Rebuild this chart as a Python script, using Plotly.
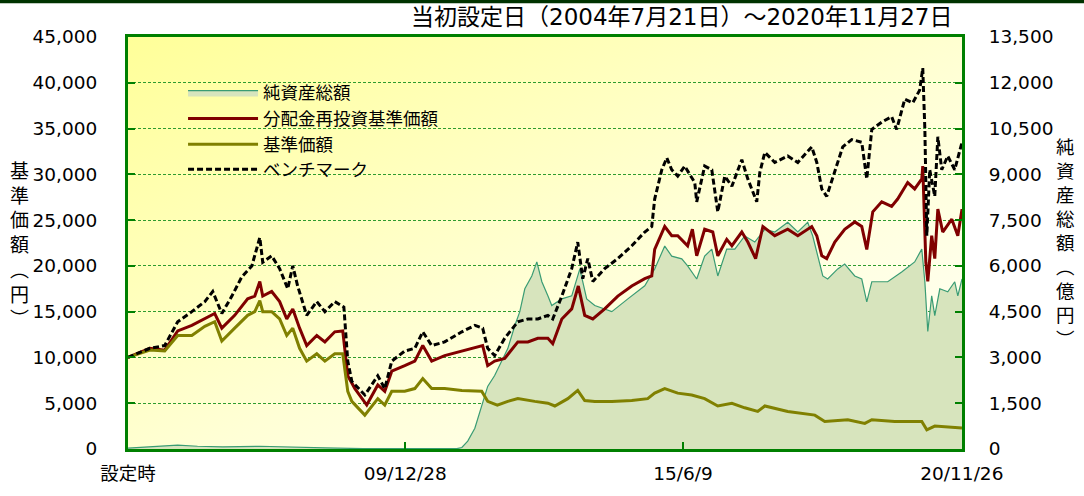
import base64
import plotly.graph_objects as go

# ---------------- data ----------------
na_dates = ["2004-07-21", "2005-03-01", "2005-07-12", "2005-12-01", "2006-06-01", "2007-02-20",
            "2007-09-01", "2008-06-01", "2009-03-01", "2010-06-01", "2011-01-01", "2011-02-06",
            "2011-03-20", "2011-05-10", "2011-06-28", "2011-08-10", "2011-09-29", "2011-11-18",
            "2012-01-01", "2012-02-20", "2012-03-27", "2012-05-02", "2012-06-21", "2012-07-27",
            "2012-09-01", "2012-10-14", "2012-11-11", "2013-01-22", "2013-04-03", "2013-05-31",
            "2013-07-19", "2013-09-15", "2014-01-15", "2014-05-10", "2014-09-08", "2014-11-18",
            "2015-01-29", "2015-03-20", "2015-05-31", "2015-07-12", "2015-09-15", "2015-11-11",
            "2016-01-01", "2016-02-13", "2016-04-17", "2016-06-14", "2016-08-24", "2016-11-04",
            "2017-01-15", "2017-03-27", "2017-06-28", "2017-09-08", "2017-11-18", "2017-12-24",
            "2018-01-29", "2018-03-06", "2018-04-10", "2018-06-21", "2018-08-10", "2018-10-21",
            "2018-12-10", "2019-01-15", "2019-02-20", "2019-06-14", "2019-09-22", "2019-12-24",
            "2020-02-13", "2020-03-06", "2020-03-27", "2020-04-24", "2020-05-16", "2020-06-21",
            "2020-08-17", "2020-10-06", "2020-10-28", "2020-11-27"]
na_values = [30, 80, 130, 90, 70, 90,
             60, 40, 10, 5, 10, 50,
             260, 680, 1430, 2050, 2410, 2870,
             3290, 4040, 4500, 5250, 5670, 6130,
             5480, 5020, 4700, 4920, 5020, 5900,
             4920, 4700, 4500, 4920, 5350, 5900,
             6650, 6320, 6230, 6000, 5570, 6320,
             6550, 5670, 6550, 6550, 6980, 6780,
             7200, 7110, 7430, 7110, 7430, 6980,
             6320, 5670, 5570, 5900, 6060, 5670,
             5570, 4820, 5480, 5480, 5800, 6130,
             6550, 5480, 3850, 5020, 4370, 5250,
             5150, 5480, 5020, 5570]

red_dates = ["2004-07-21", "2004-12-25", "2005-04-10", "2005-07-12", "2005-10-21", "2006-01-22",
             "2006-04-03", "2006-05-24", "2006-08-24", "2006-11-25", "2007-01-15", "2007-02-20",
             "2007-03-13", "2007-05-16", "2007-07-12", "2007-09-01", "2007-10-14", "2007-12-02",
             "2008-01-22", "2008-04-03", "2008-05-31", "2008-08-10", "2008-10-06", "2008-11-11",
             "2009-01-01", "2009-03-27", "2009-06-14", "2009-08-03", "2009-09-22", "2009-12-24",
             "2010-03-06", "2010-05-02", "2010-07-05", "2010-10-06", "2011-02-06", "2011-05-10",
             "2011-07-05", "2011-08-10", "2011-09-29", "2011-12-10", "2012-03-13", "2012-05-24",
             "2012-08-03", "2012-10-14", "2012-11-18", "2013-01-22", "2013-04-03", "2013-05-20",
             "2013-07-05", "2013-09-01", "2013-11-25", "2014-02-27", "2014-06-07", "2014-09-08",
             "2014-10-28", "2014-11-18", "2015-01-29", "2015-03-20", "2015-05-02", "2015-07-12",
             "2015-08-15", "2015-09-15", "2015-11-11", "2016-01-08", "2016-02-13", "2016-04-17",
             "2016-05-24", "2016-08-03", "2016-09-15", "2016-11-10", "2017-01-01", "2017-03-27",
             "2017-06-28", "2017-09-08", "2017-12-17", "2018-01-22", "2018-02-27", "2018-04-03",
             "2018-05-31", "2018-08-10", "2018-10-21", "2018-12-10", "2019-01-15", "2019-02-27",
             "2019-05-02", "2019-07-12", "2019-08-24", "2019-11-04", "2019-12-24", "2020-02-13",
             "2020-02-20", "2020-03-13", "2020-03-27", "2020-04-24", "2020-05-16", "2020-06-07",
             "2020-07-12", "2020-09-15", "2020-10-28", "2020-11-27"]
red_values = [10000, 11000, 10800, 12900, 13500, 14200,
              14800, 13200, 14600, 16400, 16700, 18300,
              16700, 17200, 16100, 14200, 15300, 13200,
              11300, 12400, 11700, 12800, 12900, 8000,
              6600, 4800, 7000, 6300, 8500, 9100,
              9600, 11300, 9600, 10200, 10700, 11000,
              11300, 9100, 9600, 9900, 11700, 11700,
              12100, 12100, 11500, 14200, 15300, 17800,
              14600, 14200, 15300, 16700, 17800, 18600,
              18900, 21800, 24300, 23300, 23300, 22200,
              24000, 21100, 24000, 23700, 21100, 22900,
              22200, 23700, 22600, 20800, 24300, 23300,
              24000, 23300, 24300, 23300, 21100, 20800,
              22600, 24000, 24800, 24300, 21800, 25900,
              27000, 26500, 27300, 29100, 28400, 29500,
              30900, 20400, 18300, 23300, 20800, 26200,
              23700, 25100, 23300, 26200]

olive_dates = ["2004-07-21", "2004-12-25", "2005-04-10", "2005-07-12", "2005-10-21", "2006-01-22",
               "2006-04-03", "2006-05-24", "2006-08-24", "2006-11-25", "2007-01-15", "2007-02-20",
               "2007-03-13", "2007-05-16", "2007-07-12", "2007-09-01", "2007-10-14", "2007-12-02",
               "2008-01-22", "2008-04-03", "2008-05-31", "2008-08-10", "2008-10-06", "2008-11-11",
               "2008-12-10", "2009-03-13", "2009-06-14", "2009-08-03", "2009-09-22", "2009-12-24",
               "2010-03-06", "2010-05-02", "2010-07-05", "2010-10-06", "2011-02-06", "2011-06-28",
               "2011-08-10", "2011-10-18", "2012-01-01", "2012-03-13", "2012-07-12", "2012-10-14",
               "2012-12-03", "2013-03-06", "2013-05-16", "2013-07-05", "2013-09-15", "2014-01-15",
               "2014-06-07", "2014-09-29", "2014-11-18", "2015-01-29", "2015-05-02", "2015-08-10",
               "2015-11-11", "2016-02-13", "2016-05-24", "2016-08-24", "2016-11-25", "2017-01-15",
               "2017-06-28", "2017-09-22", "2018-01-08", "2018-03-20", "2018-09-01", "2019-01-01",
               "2019-02-20", "2019-08-03", "2020-02-13", "2020-03-20", "2020-05-16", "2020-11-27"]
olive_values = [10000, 10800, 10700, 12400, 12400, 13400,
                13900, 11800, 13200, 14600, 15000, 16200,
                15000, 15000, 14200, 12400, 13200, 11000,
                9600, 10400, 9600, 10400, 10400, 6300,
                5200, 3700, 5500, 4800, 6300, 6300,
                6600, 7700, 6600, 6600, 6400, 6300,
                5200, 4800, 5200, 5500, 5200, 5000,
                4700, 5500, 6400, 5300, 5200, 5200,
                5300, 5500, 6100, 6600, 6100, 5900,
                5500, 4700, 5000, 4500, 4100, 4700,
                4100, 3900, 3700, 3000, 3200, 2800,
                3200, 3000, 3000, 2100, 2500, 2300]

bm_dates = ["2004-07-21", "2004-12-25", "2005-04-10", "2005-07-12", "2005-10-21", "2006-01-22",
            "2006-03-20", "2006-05-24", "2006-08-04", "2006-10-14", "2006-12-25", "2007-02-20",
            "2007-03-13", "2007-05-16", "2007-07-12", "2007-09-08", "2007-10-14", "2007-11-18",
            "2008-01-22", "2008-04-03", "2008-05-31", "2008-08-10", "2008-10-14", "2008-11-11",
            "2008-12-10", "2009-03-13", "2009-06-14", "2009-08-03", "2009-09-22", "2009-12-24",
            "2010-03-06", "2010-05-02", "2010-07-05", "2010-10-06", "2011-02-06", "2011-05-10",
            "2011-07-05", "2011-08-10", "2011-09-29", "2011-12-10", "2012-03-13", "2012-05-24",
            "2012-08-03", "2012-10-14", "2012-11-18", "2013-01-22", "2013-04-03", "2013-05-16",
            "2013-06-21", "2013-07-27", "2013-09-01", "2013-11-25", "2014-02-27", "2014-06-07",
            "2014-09-08", "2014-10-28", "2014-11-18", "2015-01-08", "2015-02-13", "2015-03-20",
            "2015-05-02", "2015-06-21", "2015-09-01", "2015-09-15", "2015-11-11", "2016-01-01",
            "2016-02-13", "2016-04-03", "2016-05-24", "2016-08-03", "2016-09-15", "2016-11-18",
            "2016-12-10", "2017-01-15", "2017-03-27", "2017-06-28", "2017-09-08", "2017-12-17",
            "2018-01-22", "2018-02-27", "2018-04-03", "2018-05-31", "2018-07-27", "2018-09-29",
            "2018-12-10", "2019-01-15", "2019-02-20", "2019-05-02", "2019-07-12", "2019-08-17",
            "2019-10-14", "2019-12-10", "2020-01-29", "2020-02-20", "2020-03-06", "2020-03-20",
            "2020-04-10", "2020-05-16", "2020-06-07", "2020-07-05", "2020-08-17", "2020-10-06",
            "2020-11-27"]
bm_values = [10000, 11000, 11300, 13900, 15000, 16100,
             17200, 14800, 16700, 18800, 20000, 23100,
             20400, 21100, 19700, 17500, 20000, 17800,
             14600, 16100, 15000, 16100, 15500, 9600,
             7400, 5900, 8000, 6600, 9600, 10700,
             11000, 12800, 11300, 11700, 12800, 13500,
             13200, 11000, 10200, 12100, 13900, 14200,
             14200, 14600, 14200, 16700, 19700, 22600,
             18600, 20800, 18300, 19700, 20800, 22200,
             23700, 24300, 27300, 30500, 31800, 30500,
             29800, 30900, 29100, 27000, 30900, 30500,
             25900, 29800, 28700, 31600, 29500, 27000,
             30200, 32400, 31300, 32000, 31300, 33000,
             31300, 28400, 27600, 30200, 33000, 33800,
             33500, 29500, 34900, 35700, 36300, 34900,
             38200, 37800, 39200, 41600, 34900, 23300,
             30500, 27600, 34100, 30500, 32000, 30500,
             33500]

x_tickvals = ["2004-07-21", "2009-12-28", "2015-06-09", "2020-11-26"]
x_ticktext = ["設定時", "09/12/28", "15/6/9", "20/11/26"]
left_ticks = list(range(0, 45001, 5000))
right_ticks = list(range(0, 13501, 1500))

title_text = "当初設定日（2004年7月21日）～2020年11月27日"
left_title = "基準価額︵円︶"
right_title = "純資産総額︵億円︶"

# ---------------- figure ----------------
GREEN = "#008000"
FONT = "DejaVu Sans, Noto Sans CJK JP, sans-serif"
JFONT = "Noto Sans CJK JP, DejaVu Sans, sans-serif"

fig = go.Figure()
fig.add_trace(go.Scatter(x=na_dates, y=na_values, name="純資産総額", yaxis="y",
                         mode="lines", fill="tozeroy", fillcolor="#D7E4BD",
                         line=dict(color="#3A9C74", width=1.2), legend="legend"))
fig.add_trace(go.Scatter(x=red_dates, y=red_values, name="分配金再投資基準価額", yaxis="y2",
                         mode="lines", line=dict(color="#800000", width=3), legend="legend2"))
fig.add_trace(go.Scatter(x=olive_dates, y=olive_values, name="基準価額", yaxis="y2",
                         mode="lines", line=dict(color="#808000", width=3), legend="legend3"))
fig.add_trace(go.Scatter(x=bm_dates, y=bm_values, name="ベンチマーク", yaxis="y2",
                         mode="lines", line=dict(color="#000000", width=3, dash="6px,3px"),
                         legend="legend4"))

svg = ('<svg xmlns="http://www.w3.org/2000/svg" width="834" height="414" viewBox="0 0 834 414" '
       'preserveAspectRatio="none"><defs><linearGradient id="g" x1="0" y1="0" x2="1" y2="1">'
       '<stop offset="0" stop-color="#FFFF99"/><stop offset="0.55" stop-color="#FFFFD6"/>'
       '<stop offset="1" stop-color="#FFFFFA"/></linearGradient></defs>'
       '<rect width="834" height="414" fill="url(#g)"/></svg>')
bg_uri = "data:image/svg+xml;base64," + base64.b64encode(svg.encode()).decode()

axis_common = dict(ticks="inside", ticklen=7, tickwidth=2, tickcolor=GREEN,
                   showline=True, linecolor=GREEN, linewidth=3, zeroline=False,
                   tickfont=dict(family=FONT, size=18.5, color="#000000"))


def legend_box(ycenter):
    return dict(x=0.066, y=ycenter, xanchor="left", yanchor="middle",
                bgcolor="rgba(0,0,0,0)", itemwidth=70, borderwidth=0,
                font=dict(family=JFONT, size=17.5, color="#000000"))


fig.update_layout(
    width=1084, height=496,
    margin=dict(l=128, r=122, t=37, b=45),
    paper_bgcolor="#FFFFFF",
    plot_bgcolor="rgba(0,0,0,0)",
    font=dict(family=FONT, size=18, color="#000000"),
    showlegend=True,
    legend=legend_box(0.8647),
    legend2=legend_box(0.8019),
    legend3=legend_box(0.7391),
    legend4=legend_box(0.6787),
    xaxis=dict(type="date", range=["2004-07-21", "2020-11-27"],
               tickmode="array", tickvals=x_tickvals, ticktext=x_ticktext,
               showgrid=False, mirror=True, ticklabelstandoff=6, **axis_common),
    yaxis=dict(side="right", range=[0, 13500], tickmode="array", tickvals=right_ticks,
               tickformat=",", showgrid=True, gridcolor="#2E9B2E", gridwidth=1,
               griddash="3px,2px", ticklabelstandoff=20, **axis_common),
    yaxis2=dict(side="left", overlaying="y", range=[0, 45000], tickmode="array",
                tickvals=left_ticks, tickformat=",", showgrid=False,
                ticklabelstandoff=24, **axis_common),
    images=[dict(source=bg_uri, xref="paper", yref="paper", x=0, y=1, sizex=1, sizey=1,
                 sizing="stretch", xanchor="left", yanchor="top", layer="below")],
    shapes=[dict(type="rect", xref="paper", yref="paper", x0=-0.2, x1=1.2,
                 y0=1.082, y1=1.1, fillcolor="#003300", line=dict(width=0))],
    annotations=[
        dict(text=title_text, xref="paper", yref="paper", x=0.9916, y=1.048,
             xanchor="right", yanchor="middle", showarrow=False,
             font=dict(family=FONT, size=23, color="#000000")),
        dict(text="<br>".join(left_title), xref="paper", yref="paper", x=-0.1295, y=0.50,
             xanchor="center", yanchor="middle", showarrow=False,
             font=dict(family=JFONT, size=19, color="#000000")),
        dict(text="<br>".join(right_title), xref="paper", yref="paper", x=1.1247, y=0.502,
             xanchor="center", yanchor="middle", showarrow=False,
             font=dict(family=JFONT, size=18.5, color="#000000")),
    ],
)

fig.write_html("out.html", config={"displayModeBar": False},
               post_script="document.body.style.margin='0';")
